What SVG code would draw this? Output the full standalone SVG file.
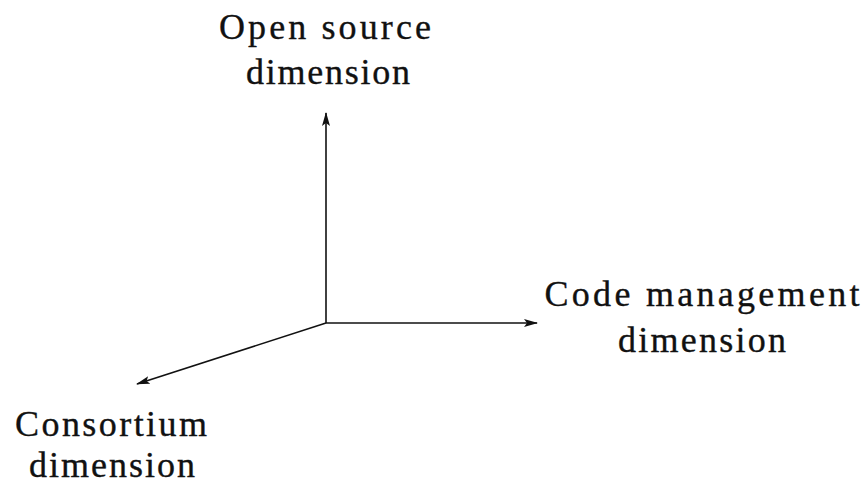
<svg xmlns="http://www.w3.org/2000/svg" width="867" height="484" viewBox="0 0 867 484">
<style>
text{font-family:"Liberation Serif","Times New Roman",serif;font-size:36px;fill:#111;stroke:#111;stroke-width:0.35;text-anchor:middle}
.ax{stroke:#111;stroke-width:1.6;fill:none;marker-end:url(#ah)}
</style>
<defs>
<marker id="ah" viewBox="0 0 14 8" refX="13" refY="4" markerWidth="14" markerHeight="8" markerUnits="userSpaceOnUse" orient="auto">
<path d="M0,0 L14,4 L0,8 L3,4 Z" fill="#111"/>
</marker>
</defs>
<rect width="867" height="484" fill="#fff"/>
<g id="connectors">
<line class="ax" x1="326" y1="323" x2="326" y2="113"/>
<line class="ax" x1="326" y1="323" x2="537" y2="323"/>
<line class="ax" x1="326" y1="323" x2="137" y2="384"/>
</g>
<g id="open-source">
<text x="325" y="39" textLength="212" lengthAdjust="spacing">Open source</text>
<text x="328" y="84" textLength="164" lengthAdjust="spacing">dimension</text>
</g>
<g id="code-management">
<text x="702" y="306" textLength="315" lengthAdjust="spacing">Code management</text>
<text x="702" y="352" textLength="168" lengthAdjust="spacing">dimension</text>
</g>
<g id="consortium">
<text x="111" y="436" textLength="192" lengthAdjust="spacing">Consortium</text>
<text x="112" y="477" textLength="166" lengthAdjust="spacing">dimension</text>
</g>
</svg>
